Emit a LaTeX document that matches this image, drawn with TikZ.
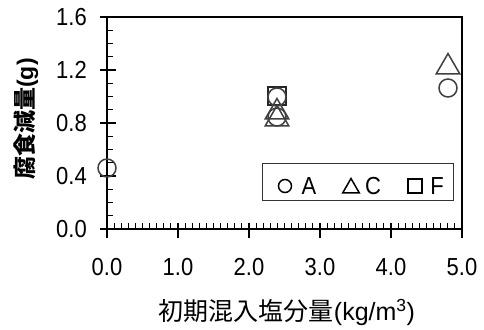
\documentclass[tikz,border=0pt]{standalone}
\usepackage{fontspec}
\usepackage{graphicx}
\setmainfont{Liberation Sans}
\newfontfamily\cjk{Noto Sans CJK JP}
\usetikzlibrary{shapes.geometric}
\newcommand{\tall}[1]{\scalebox{1}[1.12]{#1}}
\begin{document}
\begin{tikzpicture}[x=1pt,y=-1pt,
  axisline/.style={line width=1.4pt,black},
  tickline/.style={line width=1.1pt,black},
  ticklab/.style={font=\fontsize{22}{24}\selectfont,text=black,inner sep=0pt},
  mk/.style={draw=black!75,line width=1.5pt,fill=none,inner sep=0pt,outer sep=0pt},
  mcirc/.style={mk,circle,minimum size=18pt},
  mtri/.style={mk,regular polygon,regular polygon sides=3,minimum size=27pt},
  msq/.style={mk,rectangle,minimum size=18pt,line width=2.4pt,draw=black!85},
  lcirc/.style={mk,circle,minimum size=13pt,draw=black},
  ltri/.style={mk,regular polygon,regular polygon sides=3,minimum size=19pt,draw=black},
  lsq/.style={mk,rectangle,minimum size=14pt,draw=black},
  leglab/.style={font=\fontsize{22}{24}\selectfont,inner sep=0pt}]
\useasboundingbox (0,0) rectangle (484,329);
% frame
\draw[axisline] (100,229) -- (462,229) -- (462,237);
\draw[axisline] (107,236) -- (107,17);
\draw[axisline] (100,17) -- (462,17) -- (462,229);
% y ticks
\foreach \v in {0,0.4,0.8,1.2,1.6}{
  \draw[tickline] (100,229-132.5*\v) -- (116,229-132.5*\v);}
\foreach \i in {1,...,15}{
  \draw[tickline] (107,229-13.25*\i) -- (113,229-13.25*\i);}
% x ticks
\foreach \u in {0,1,2,3,4,5}{
  \draw[tickline] (107+71*\u,223) -- (107+71*\u,238);}
\foreach \i in {1,...,49}{
  \draw[tickline] (107+7.1*\i,229) -- (107+7.1*\i,223);}
% tick labels
\foreach \v/\t in {0/0.0,0.4/0.4,0.8/0.8,1.2/1.2,1.6/1.6}{
  \node[ticklab,anchor=east] at (87,229-132.5*\v) {\tall{\t}};}
\foreach \u/\t in {0/0.0,1/1.0,2/2.0,3/3.0,4/4.0,5/5.0}{
  \node[ticklab] at (107+71*\u,267) {\tall{\t}};}
% axis titles
\node[rotate=90,font=\fontsize{23}{25}\selectfont\bfseries,inner sep=0pt] (ylab) at (26,119) {{\cjk 腐食減量}(g)};
\node[font=\fontsize{25}{27}\selectfont,inner sep=0pt] (xlab) at (287,312) {{\cjk 初期混入塩分量}(kg/m\textsuperscript{3})};
% data
\node[mcirc] (a0) at (107,168) {};
\node[msq] (f24) at (277,96) {};
\node[mcirc] (a24a) at (277,97) {};
\node[mtri] (c24a) at (277,112) {};
\node[mtri] (c24b) at (277,119) {};
\node[mcirc] (a24b) at (277,117) {};
\node[mtri] (c48) at (448,67) {};
\node[mcirc] (a48) at (448,88) {};
% legend
\node[draw=black!80,line width=1pt,minimum width=191pt,minimum height=37pt,inner sep=0pt] (leg) at (357.5,181.5) {};
\node[lcirc] (la) at (285,186) {};
\node[leglab] (lta) at (309,186) {\tall{A}};
\node[ltri] (lc) at (351,188) {};
\node[leglab] (ltc) at (373,186) {\tall{C}};
\node[lsq] (lf) at (415,186) {};
\node[leglab] (ltf) at (437,186) {\tall{F}};
\end{tikzpicture}
\end{document}
